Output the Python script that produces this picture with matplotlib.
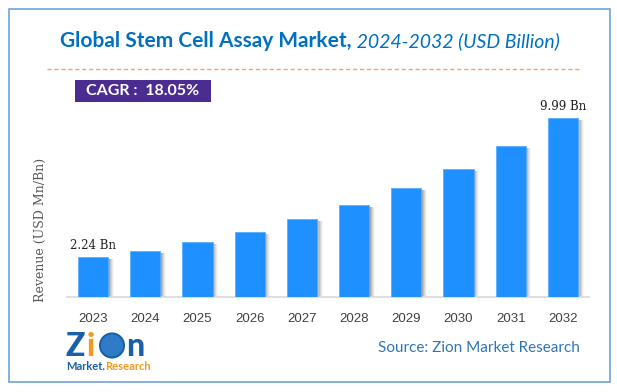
import matplotlib
matplotlib.use("Agg")
import matplotlib.pyplot as plt
from matplotlib.patches import Rectangle, Ellipse
import numpy as np

years = ["2023", "2024", "2025", "2026", "2027", "2028", "2029", "2030", "2031", "2032"]
revenue = [2.24, 2.60, 3.10, 3.65, 4.35, 5.13, 6.07, 7.13, 8.43, 9.99]
first_label = "2.24 Bn"
last_label = "9.99 Bn"
title_bold = "Global Stem Cell Assay Market,"
title_italic = " 2024-2032 (USD Billion)"
cagr_text = "CAGR :  18.05%"
ylabel = "Revenue (USD Mn/Bn)"
source = "Source: Zion Market Research"

W, H = 617, 392
fig = plt.figure(figsize=(W / 100, H / 100), dpi=100)
fig.patch.set_facecolor("white")

def fx(px):
    return px / W

def fy(py):
    return 1 - py / H

# outer border
fig.patches.append(Rectangle((fx(9), fy(382)), fx(601), (382 - 9) / H, transform=fig.transFigure,
                             fill=False, edgecolor="#6FA3D8", linewidth=1.2))

# axes
ax = fig.add_axes([fx(67), fy(297.3), fx(522), (297.3 - 108) / H])
x = np.arange(len(years))
bw = 0.575
# shadow
for k, a in enumerate([0.22, 0.17, 0.12, 0.08, 0.05]):
    off = 0.03 + k * 0.02
    ax.bar(x + off, np.array(revenue) - 0.12, width=bw, color="#555555", alpha=a, zorder=1, linewidth=0)
ax.bar(x, revenue, width=bw, color="#1E90FF", edgecolor="#5AAEFF", linewidth=0.6, zorder=3)
ax.set_xlim(-0.5, 9.5)
ax.set_ylim(0, (297.3 - 108) / 17.95)
for s in ["top", "right", "left"]:
    ax.spines[s].set_visible(False)
ax.spines["bottom"].set_color("#D9D9D9")
ax.spines["bottom"].set_linewidth(1.2)
ax.set_yticks([])
ax.set_xticks(x)
ax.set_xticklabels(years, fontsize=9.5, color="#404040", family="Liberation Sans")
ax.tick_params(axis="x", length=0, pad=11)
ax.set_facecolor("none")

ax.text(x[0], revenue[0] + 0.3, first_label, ha="center", va="bottom", fontsize=8.5,
        family="DejaVu Serif", color="#222222")
ax.text(x[-1], revenue[-1] + 0.3, last_label, ha="center", va="bottom", fontsize=8.5,
        family="DejaVu Serif", color="#222222")

fig.text(fx(40), fy(230), ylabel, rotation=90, ha="center", va="center", fontsize=9,
         family="DejaVu Serif", color="#595959")

# title
t1 = fig.text(fx(60), fy(41), title_bold, ha="left", va="center", fontsize=15,
              fontweight="bold", family="Lato", color="#0070C0")
fig.canvas.draw()
bb = t1.get_window_extent()
fig.text(bb.x1 / W, fy(41), title_italic, ha="left", va="center", fontsize=14,
         style="italic", family="Lato", color="#0070C0")

# dashed line
fig.add_artist(plt.Line2D([fx(47), fx(582)], [fy(69), fy(69)], transform=fig.transFigure,
                          color="#F4A26B", linestyle=(0, (3, 2)), linewidth=1.0))

# CAGR box
fig.patches.append(Rectangle((fx(75), fy(102)), fx(136), 22 / H, transform=fig.transFigure,
                             facecolor="#4B2C91", edgecolor="none"))
fig.text(fx(143), fy(91), cagr_text, ha="center", va="center", fontsize=11.5,
         fontweight="bold", family="Lato", color="white")

# source
fig.text(fx(580), fy(348), source, ha="right", va="center", fontsize=11,
         family="Lato", color="#2E75B6")

# logo
navy = "#1B5FA8"
orange = "#F39A1E"
fig.text(fx(66), fy(346), "Z", ha="left", va="center", fontsize=23, fontweight="black",
         family="Lato", color=navy)
fig.text(fx(87), fy(346), "i", ha="left", va="center", fontsize=23, fontweight="black",
         family="Lato", color=orange)
fig.patches.append(Ellipse((fx(112), fy(345.5)), 24 / W, 24 / H, transform=fig.transFigure,
                           facecolor="#2F7BC8", edgecolor=navy, linewidth=1.5))
fig.text(fx(126), fy(346), "n", ha="left", va="center", fontsize=23, fontweight="black",
         family="Lato", color=navy)
tm = fig.text(fx(66), fy(367), "Market.", ha="left", va="center", fontsize=8, fontweight="bold",
              family="Lato", color=navy)
fig.canvas.draw()
bm = tm.get_window_extent()
fig.text(bm.x1 / W, fy(367), "Research", ha="left", va="center", fontsize=8, fontweight="bold",
         family="Lato", color=orange)

fig.savefig("out.png", dpi=100)
